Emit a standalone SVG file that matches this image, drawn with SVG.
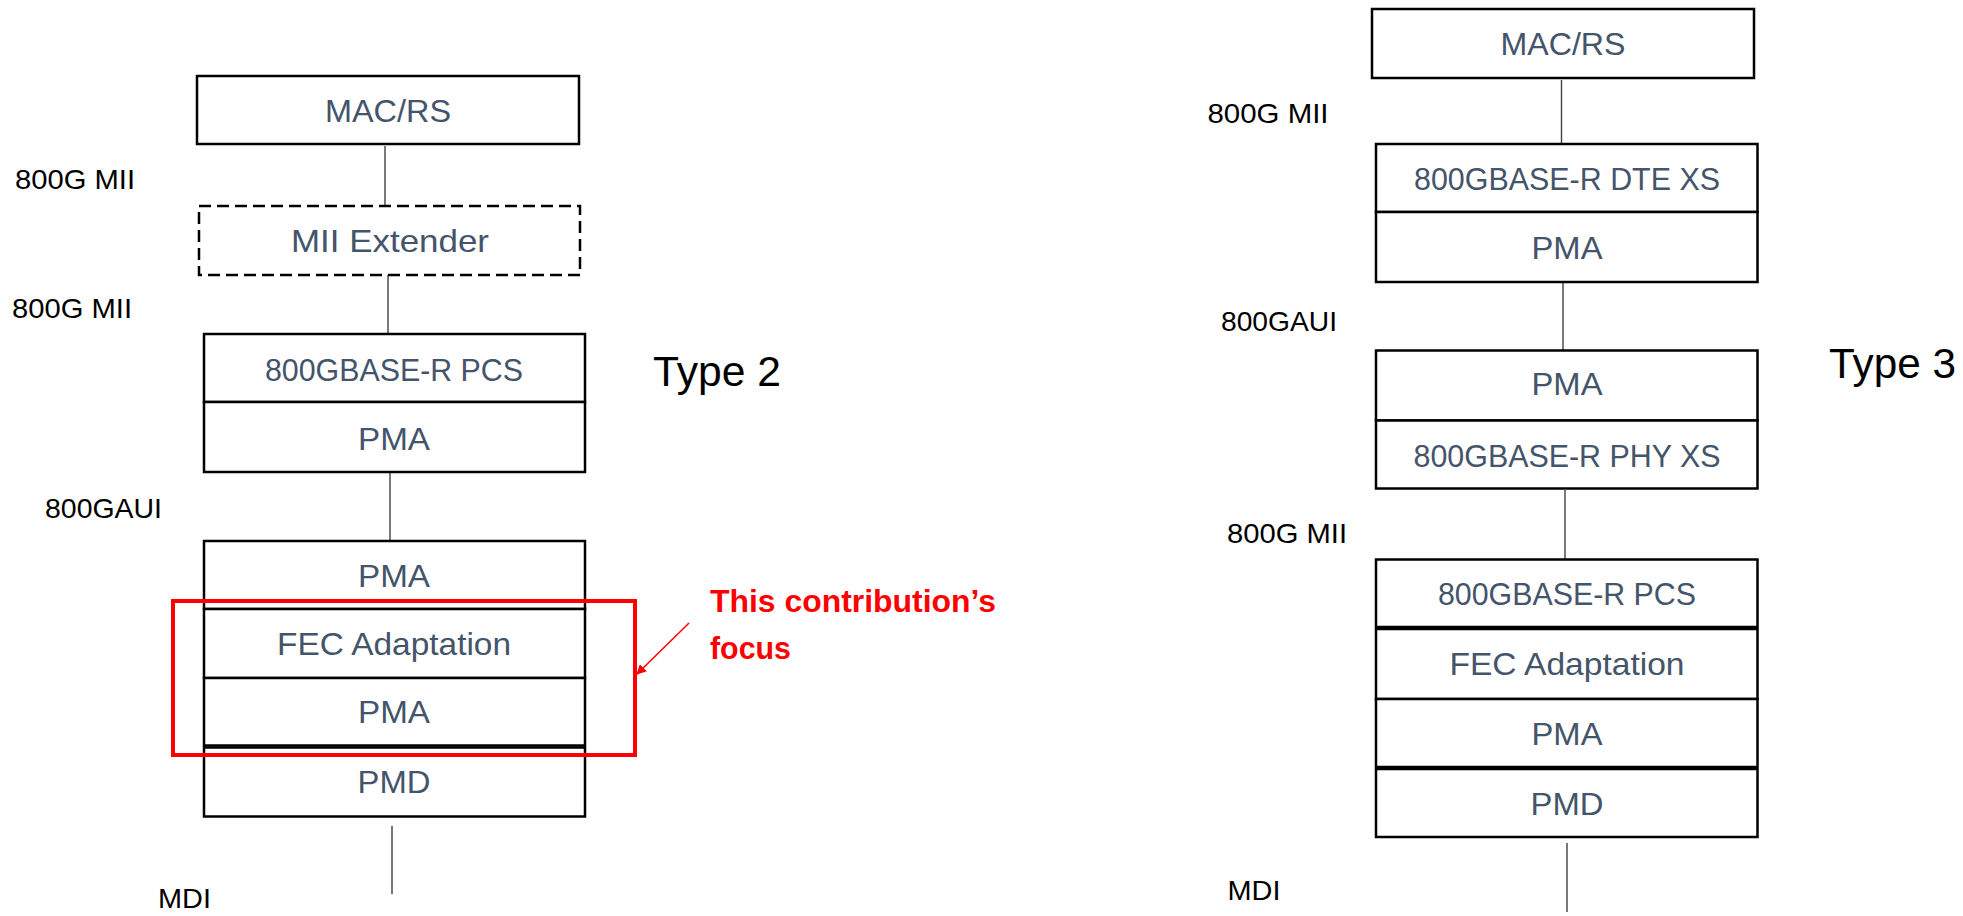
<svg xmlns="http://www.w3.org/2000/svg" width="1963" height="916" viewBox="0 0 1963 916">
<defs>
<style>
.box{fill:#fff;stroke:#000;stroke-width:2.5}
.dash{fill:#fff;stroke:#000;stroke-width:2.5;stroke-dasharray:12 6}
.bt{font-family:"Liberation Sans",Arial,sans-serif;font-size:32px;fill:#44546A;text-anchor:middle}
.lbl{font-family:"Liberation Sans",Arial,sans-serif;font-size:28px;fill:#000}
.typ{font-family:"Liberation Sans",Arial,sans-serif;font-size:42px;fill:#000}
.red{font-family:"Liberation Sans",Arial,sans-serif;font-size:32px;font-weight:bold;fill:#FF0000}
.conn{stroke:#404040;stroke-width:1.4;fill:none}
</style>
<marker id="ah" viewBox="0 0 10 10" refX="9" refY="5" markerWidth="10" markerHeight="10" markerUnits="userSpaceOnUse" orient="auto"><path d="M0,0 L10,5 L0,10 z" fill="#FF0000"/></marker>
</defs>
<rect width="1963" height="916" fill="#fff"/>
<g id="connectors">
<line class="conn" x1="385" y1="146" x2="385" y2="206"/>
<line class="conn" x1="388" y1="275" x2="388" y2="334"/>
<line class="conn" x1="390" y1="472" x2="390" y2="541"/>
<line class="conn" x1="392" y1="826" x2="392" y2="894"/>
<line class="conn" x1="1561.5" y1="80" x2="1561.5" y2="144"/>
<line class="conn" x1="1563" y1="282" x2="1563" y2="350"/>
<line class="conn" x1="1565" y1="490" x2="1565" y2="560"/>
<line class="conn" x1="1567" y1="843" x2="1567" y2="912"/>
</g>
<g id="t2-macrs"><rect class="box" x="197" y="76" width="382" height="68"/><text class="bt" x="388" y="121.7" textLength="126" lengthAdjust="spacingAndGlyphs">MAC/RS</text></g>
<g id="t2-miiext"><rect class="dash" x="199" y="206" width="381" height="69"/><text class="bt" x="390" y="251.7" textLength="198" lengthAdjust="spacingAndGlyphs">MII Extender</text></g>
<g id="t2-pcs"><rect class="box" x="204" y="334" width="381" height="68"/><text class="bt" x="394" y="380.7" textLength="258" lengthAdjust="spacingAndGlyphs">800GBASE-R PCS</text></g>
<g id="t2-pma1"><rect class="box" x="204" y="402" width="381" height="70"/><text class="bt" x="394" y="450" textLength="72" lengthAdjust="spacingAndGlyphs">PMA</text></g>
<g id="t2-pma2"><rect class="box" x="204" y="541" width="381" height="68"/><text class="bt" x="394" y="586.7" textLength="72" lengthAdjust="spacingAndGlyphs">PMA</text></g>
<g id="t2-fec"><rect class="box" x="204" y="609" width="381" height="69"/><text class="bt" x="394" y="655" textLength="234" lengthAdjust="spacingAndGlyphs">FEC Adaptation</text></g>
<g id="t2-pma3"><rect class="box" x="204" y="678" width="381" height="67.5"/><text class="bt" x="394" y="723.3" textLength="72" lengthAdjust="spacingAndGlyphs">PMA</text></g>
<g id="t2-pmd"><rect class="box" x="204" y="747.5" width="381" height="69"/><text class="bt" x="394" y="793.3" textLength="73" lengthAdjust="spacingAndGlyphs">PMD</text></g>
<g id="t2-labels">
<text class="lbl" x="15" y="189" textLength="120" lengthAdjust="spacingAndGlyphs">800G MII</text>
<text class="lbl" x="12" y="318" textLength="120" lengthAdjust="spacingAndGlyphs">800G MII</text>
<text class="lbl" x="45" y="517.7" textLength="117" lengthAdjust="spacingAndGlyphs">800GAUI</text>
<text class="lbl" x="158" y="908" textLength="53" lengthAdjust="spacingAndGlyphs">MDI</text>
<text class="typ" x="653" y="386" textLength="128" lengthAdjust="spacingAndGlyphs">Type 2</text>
</g>
<g id="focus">
<rect x="173" y="601" width="462" height="154" fill="none" stroke="#FF0000" stroke-width="4"/>
<line x1="689" y1="623" x2="637" y2="674" stroke="#FF0000" stroke-width="1.5" marker-end="url(#ah)"/>
<text class="red" x="710" y="611.7" textLength="286" lengthAdjust="spacingAndGlyphs">This contribution’s</text>
<text class="red" x="710" y="659.3" textLength="81" lengthAdjust="spacingAndGlyphs">focus</text>
</g>
<g id="t3-macrs"><rect class="box" x="1372" y="9" width="382" height="69"/><text class="bt" x="1563" y="55" textLength="125" lengthAdjust="spacingAndGlyphs">MAC/RS</text></g>
<g id="t3-dtexs"><rect class="box" x="1376" y="144" width="381.5" height="68"/><text class="bt" x="1567" y="190" textLength="306" lengthAdjust="spacingAndGlyphs">800GBASE-R DTE XS</text></g>
<g id="t3-pma1"><rect class="box" x="1376" y="212" width="381.5" height="70"/><text class="bt" x="1567" y="259.3" textLength="71" lengthAdjust="spacingAndGlyphs">PMA</text></g>
<g id="t3-pma2"><rect class="box" x="1376" y="350.5" width="381.5" height="70"/><text class="bt" x="1567" y="395" textLength="71" lengthAdjust="spacingAndGlyphs">PMA</text></g>
<g id="t3-phyxs"><rect class="box" x="1376" y="420.5" width="381.5" height="68"/><text class="bt" x="1567" y="466.7" textLength="307" lengthAdjust="spacingAndGlyphs">800GBASE-R PHY XS</text></g>
<g id="t3-pcs"><rect class="box" x="1376" y="559.5" width="381.5" height="67.5"/><text class="bt" x="1567" y="605" textLength="258" lengthAdjust="spacingAndGlyphs">800GBASE-R PCS</text></g>
<g id="t3-fec"><rect class="box" x="1376" y="629" width="381.5" height="70"/><text class="bt" x="1567" y="675" textLength="235" lengthAdjust="spacingAndGlyphs">FEC Adaptation</text></g>
<g id="t3-pma3"><rect class="box" x="1376" y="699" width="381.5" height="68"/><text class="bt" x="1567" y="745" textLength="71" lengthAdjust="spacingAndGlyphs">PMA</text></g>
<g id="t3-pmd"><rect class="box" x="1376" y="769" width="381.5" height="68"/><text class="bt" x="1567" y="815" textLength="73" lengthAdjust="spacingAndGlyphs">PMD</text></g>
<g id="t3-labels">
<text class="lbl" x="1207.5" y="123" textLength="121" lengthAdjust="spacingAndGlyphs">800G MII</text>
<text class="lbl" x="1221" y="330.5" textLength="116" lengthAdjust="spacingAndGlyphs">800GAUI</text>
<text class="lbl" x="1227" y="543.3" textLength="120" lengthAdjust="spacingAndGlyphs">800G MII</text>
<text class="lbl" x="1227.5" y="900" textLength="53" lengthAdjust="spacingAndGlyphs">MDI</text>
<text class="typ" x="1829" y="378" textLength="127" lengthAdjust="spacingAndGlyphs">Type 3</text>
</g>
</svg>
